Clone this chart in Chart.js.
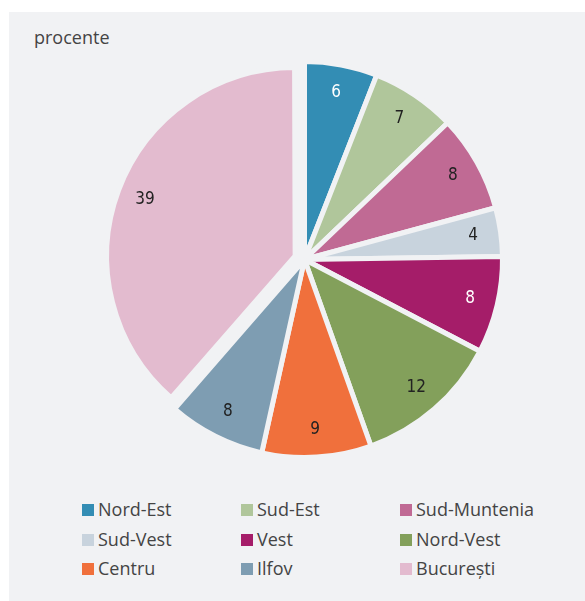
<!DOCTYPE html>
<html>
<head>
<meta charset="utf-8">
<script src="https://cdn.jsdelivr.net/npm/chart.js@4/dist/chart.umd.min.js"></script>
<style>
  html, body { margin: 0; padding: 0; background: #ffffff; }
  #frame {
    position: absolute; left: 9px; top: 12px; width: 576px; height: 589px;
    background: #f1f2f4; font-family: "Open Sans", "Noto Sans", sans-serif; color: #444;
  }
  #unit { position: absolute; left: 25px; top: 13px; font-size: 18px; }
  #pieBox { position: absolute; left: 74.5px; top: 26.5px; width: 441px; height: 441px; }
  #legend { position: absolute; left: 73px; top: 486px; }
  .item { position: absolute; white-space: nowrap; font-size: 18px; line-height: 24px; }
  .item span.box { position: absolute; left: 0; top: 6px; width: 12px; height: 12px; }
  .item span.lbl { position: absolute; left: 16px; top: -1px; }
</style>
</head>
<body>
<div id="frame">
  <div id="unit">procente</div>
  <div id="pieBox"><canvas id="pie" width="441" height="441"></canvas></div>
  <div id="legend"></div>
</div>
<script>
// ===== Data =====
const regions = [
  "Nord-Est", "Sud-Est", "Sud-Muntenia", "Sud-Vest", "Vest",
  "Nord-Vest", "Centru", "Ilfov", "București"
];
const shares = [6, 7, 8, 4, 8, 12, 9, 8, 39];
const sliceColors = [
  "#338db4", "#b0c69b", "#c06a94", "#c8d3dd", "#a51d69",
  "#83a05b", "#f0703c", "#7e9db2", "#e3bbcf"
];
const labelColors = [
  "#ffffff", "#222222", "#222222", "#222222", "#ffffff",
  "#222222", "#222222", "#222222", "#222222"
];

const bg = "#f1f2f4";
const pulled = 8; // București is pulled out and drawn a bit smaller

// ===== Legend (3 columns) =====
const legend = document.getElementById('legend');
regions.forEach((name, i) => {
  const col = i % 3;
  const row = Math.floor(i / 3);
  const item = document.createElement('div');
  item.className = 'item';
  item.style.left = (col * 159) + 'px';
  item.style.top = (row * 29.5) + 'px';
  item.innerHTML = `<span class="box" style="background:${sliceColors[i]}"></span><span class="lbl">${name}</span>`;
  legend.appendChild(item);
});

// ===== Shrink the pulled-out slice =====
const shrinkPulled = {
  id: 'shrinkPulled',
  beforeDatasetsDraw(chart) {
    const meta = chart.getDatasetMeta(0);
    meta.data[pulled].outerRadius = meta.controller.outerRadius - 13;
  }
};

// ===== Value labels inside slices =====
const sliceLabels = {
  id: 'sliceLabels',
  afterDatasetsDraw(chart) {
    const ctx = chart.ctx;
    const meta = chart.getDatasetMeta(0);
    ctx.save();
    ctx.font = '17px "Liberation Sans Narrow", "DejaVu Sans Condensed", sans-serif';
    ctx.textAlign = 'center';
    ctx.textBaseline = 'middle';
    meta.data.forEach((arc, i) => {
      const p = arc.getProps(['x', 'y', 'startAngle', 'endAngle']);
      const mid = (p.startAngle + p.endAngle) / 2;
      const r = meta.controller.outerRadius * 0.86;
      ctx.fillStyle = labelColors[i];
      ctx.fillText(String(shares[i]), p.x + Math.cos(mid) * r, p.y + Math.sin(mid) * r);
    });
    ctx.restore();
  }
};

new Chart(document.getElementById('pie'), {
  type: 'pie',
  data: {
    labels: regions,
    datasets: [{
      data: shares,
      backgroundColor: sliceColors,
      borderColor: bg,
      borderWidth: 5,
      offset: regions.map((r, i) => i === pulled ? 40 : 0)
    }]
  },
  options: {
    responsive: false,
    animation: false,
    layout: { padding: 0 },
    plugins: {
      legend: { display: false },
      tooltip: { enabled: false }
    }
  },
  plugins: [shrinkPulled, sliceLabels]
});
</script>
</body>
</html>
